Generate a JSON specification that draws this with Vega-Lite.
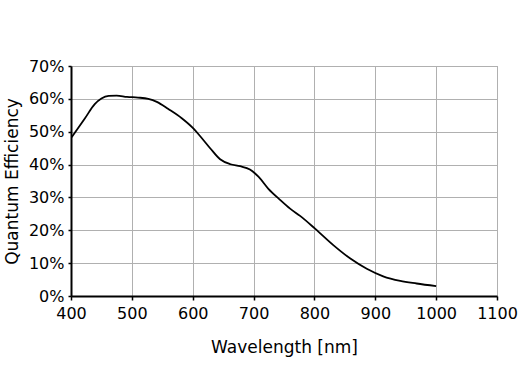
{
  "$schema": "https://vega.github.io/schema/vega-lite/v6.json",
  "width": 426,
  "height": 230,
  "autosize": {"type": "none"},
  "padding": {"left": 71, "top": 66, "right": 23, "bottom": 94},
  "background": "white",
  "config": {
    "font": "DejaVu Sans",
    "view": {"stroke": "#9a9a9a", "strokeWidth": 1}
  },
  "data": {
    "values": [
      {"wl": 401, "qe": 0.483},
      {"wl": 423, "qe": 0.541},
      {"wl": 439, "qe": 0.584},
      {"wl": 450, "qe": 0.601},
      {"wl": 462, "qe": 0.609},
      {"wl": 475, "qe": 0.610},
      {"wl": 492, "qe": 0.606},
      {"wl": 510, "qe": 0.604},
      {"wl": 527, "qe": 0.600},
      {"wl": 541, "qe": 0.591},
      {"wl": 560, "qe": 0.569},
      {"wl": 582, "qe": 0.541},
      {"wl": 601, "qe": 0.510},
      {"wl": 612, "qe": 0.487},
      {"wl": 629, "qe": 0.449},
      {"wl": 645, "qe": 0.416},
      {"wl": 662, "qe": 0.401},
      {"wl": 678, "qe": 0.395},
      {"wl": 694, "qe": 0.385},
      {"wl": 708, "qe": 0.363},
      {"wl": 724, "qe": 0.327},
      {"wl": 744, "qe": 0.292},
      {"wl": 760, "qe": 0.266},
      {"wl": 777, "qe": 0.243},
      {"wl": 801, "qe": 0.205},
      {"wl": 831, "qe": 0.155},
      {"wl": 859, "qe": 0.114},
      {"wl": 886, "qe": 0.083},
      {"wl": 913, "qe": 0.060},
      {"wl": 941, "qe": 0.046},
      {"wl": 968, "qe": 0.038},
      {"wl": 1000, "qe": 0.030}
    ]
  },
  "mark": {"type": "line", "color": "black", "strokeWidth": 1.8, "interpolate": "monotone"},
  "encoding": {
    "x": {
      "field": "wl",
      "type": "quantitative",
      "scale": {"domain": [400, 1100], "nice": false, "zero": false},
      "axis": {
        "title": "Wavelength [nm]",
        "values": [400, 500, 600, 700, 800, 900, 1000, 1100],
        "format": "d",
        "grid": true,
        "gridColor": "#b0b0b0",
        "gridOpacity": 1,
        "gridWidth": 1,
        "domainColor": "black",
        "domainWidth": 2,
        "tickColor": "black",
        "tickSize": 4,
        "tickWidth": 1.5,
        "labelFontSize": 16,
        "labelColor": "black",
        "labelPadding": 5,
        "labelFlush": false,
        "titleFontSize": 17,
        "titleFontWeight": "normal",
        "titleColor": "black",
        "titlePadding": 18
      }
    },
    "y": {
      "field": "qe",
      "type": "quantitative",
      "scale": {"domain": [0, 0.7], "nice": false},
      "axis": {
        "title": "Quantum Efficiency",
        "values": [0, 0.1, 0.2, 0.3, 0.4, 0.5, 0.6, 0.7],
        "format": ".0%",
        "grid": true,
        "gridColor": "#b0b0b0",
        "gridOpacity": 1,
        "gridWidth": 1,
        "domainColor": "black",
        "domainWidth": 2,
        "tickColor": "black",
        "tickSize": 3,
        "tickWidth": 1.5,
        "labelFontSize": 16,
        "labelColor": "black",
        "labelPadding": 4,
        "labelFlush": false,
        "titleFontSize": 17,
        "titleFontWeight": "normal",
        "titleColor": "black",
        "titlePadding": 7
      }
    }
  }
}
